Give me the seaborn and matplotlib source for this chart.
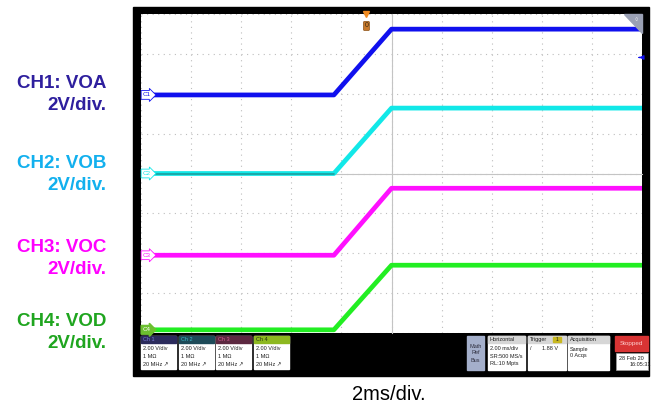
import numpy as np
import pandas as pd
import matplotlib
matplotlib.use("Agg")
import matplotlib.pyplot as plt
from matplotlib.patches import Rectangle, Polygon
from matplotlib.ticker import MultipleLocator
import seaborn as sns

# scope trace data: time in ms (2 ms/div), level in divisions (2 V/div)
channels = ["CH1", "CH2", "CH3", "CH4"]
trace_colors = ["#1010EE", "#12E8E8", "#FF10FF", "#22EE22"]
low_levels = [1.97, 0.0, -2.05, -3.92]
high_levels = [3.62, 1.64, -0.37, -2.30]
ramp_start = -2.3
ramp_end = 0.0
t_left, t_right = -10.0, 10.0
trigger_time = -1.0
trigger_volts = 1.88

label_names = ["CH1: VOA", "CH2: VOB", "CH3: VOC", "CH4: VOD"]
label_colors = ["#2E1F9E", "#12B0EE", "#FF00FF", "#1FA51F"]
label_y = [83, 164, 247, 321]

rows = []
for ch, lo, hi in zip(channels, low_levels, high_levels):
    for t, v in zip([t_left, ramp_start, ramp_end, t_right], [lo, lo, hi, hi]):
        rows.append({"channel": ch, "time": t, "level": v})
df = pd.DataFrame(rows)

sns.set_style("white")
plt.rcParams["font.family"] = ["Liberation Sans", "DejaVu Sans"]

fig = plt.figure(figsize=(6.52, 4.07), dpi=100)

# background layer in pixel coords
bg = fig.add_axes([0, 0, 1, 1], zorder=0)
bg.set_xlim(0, 652)
bg.set_ylim(407, 0)
bg.axis("off")
bg.add_patch(Rectangle((133, 7), 516, 369, color="black"))

# left channel labels
for name, col, y in zip(label_names, label_colors, label_y):
    bg.text(106, y, name, color=col, fontsize=13.5, fontweight="bold", ha="right", va="center")
    bg.text(106, y + 22, "2V/div.", color=col, fontsize=13.5, fontweight="bold", ha="right", va="center")

bg.text(389, 395, "2ms/div.", fontsize=14.5, ha="center", va="center", color="black")

# status bar
ch_heads = ["#2B2B5C", "#1D4A58", "#5C2840", "#8DB820"]
ch_head_txt = ["#7C7CD8", "#3CB8C8", "#D06090", "#203010"]
ch_x = [141, 179, 216, 254]
for i, (x0, hc, tc) in enumerate(zip(ch_x, ch_heads, ch_head_txt)):
    bg.add_patch(Rectangle((x0, 336), 35, 33, color="white"))
    bg.add_patch(Rectangle((x0, 336), 35, 7, color=hc))
    bg.text(x0 + 2, 339.5, f"Ch {i + 1}", color=tc, fontsize=4, va="center")
    for j, s in enumerate(["2.00 V/div", "1 M\u03a9", "20 MHz \u2197"]):
        bg.text(x0 + 2, 349 + 8 * j, s, fontsize=4, va="center", color="#202020")

bg.add_patch(Rectangle((467, 336), 17, 34, color="#A4AFCB"))
bg.text(475.5, 353, "Math\nRef\nBus", fontsize=4, ha="center", va="center", color="#303040", linespacing=1.5)

boxes = [(488, 37, "Horizontal", ["2.00 ms/div", "SR:500 MS/s", "RL:10 Mpts"]),
         (528, 38, "Trigger", ["/       1.88 V"]),
         (568, 41, "Acquisition", ["Sample", "0 Acqs"])]
for x0, w, head, lines in boxes:
    bg.add_patch(Rectangle((x0, 336), w, 34, color="white"))
    bg.add_patch(Rectangle((x0, 336), w, 7, color="#D6D6D6"))
    bg.text(x0 + 2, 339.5, head, fontsize=4, va="center", color="#202020")
    for j, s in enumerate(lines):
        bg.text(x0 + 2, 349 + 7 * j, s, fontsize=4, va="center", color="#202020")
bg.add_patch(Rectangle((553, 337), 8, 5, color="#C8B820"))
bg.text(557, 339.5, "1", fontsize=3.5, ha="center", va="center", color="#202020")

bg.add_patch(Rectangle((615, 336), 33, 15, color="#D83434"))
bg.text(620, 343.5, "Stopped", fontsize=4.5, va="center", color="#FFD0D0")
bg.add_patch(Rectangle((616, 353), 32, 17, facecolor="white", edgecolor="#A0A0A0", lw=0.5))
bg.text(619, 358, "28 Feb 20", fontsize=4, va="center", color="#202020")
bg.text(630, 365, "16:05:31", fontsize=4, va="center", color="#202020")

# scope screen
ax = fig.add_axes([141 / 652, 1 - 333 / 407, 501 / 652, 319 / 407], zorder=1)
ax.set_facecolor("white")
ax.set_xlim(t_left, t_right)
ax.set_ylim(-4, 4)
ax.xaxis.set_major_locator(MultipleLocator(2))
ax.xaxis.set_minor_locator(MultipleLocator(0.4))
ax.yaxis.set_major_locator(MultipleLocator(1))
ax.yaxis.set_minor_locator(MultipleLocator(0.2))
ax.grid(True, which="major", color="#BDBDBD", linestyle=(0, (1, 4)), linewidth=0.8)
# center cross lines with graticule ticks
for side in ["top", "right"]:
    ax.spines[side].set_visible(False)
ax.spines["left"].set_position(("data", 0))
ax.spines["bottom"].set_position(("data", 0))
for side in ["left", "bottom"]:
    ax.spines[side].set_color("#C4C4C4")
    ax.spines[side].set_linewidth(0.8)
ax.tick_params(which="both", direction="inout", color="#C4C4C4", width=0.6,
               labelbottom=False, labelleft=False)
ax.tick_params(which="major", length=4)
ax.tick_params(which="minor", length=2.5)

sns.lineplot(data=df, x="time", y="level", hue="channel", palette=trace_colors,
             linewidth=3.4, estimator=None, legend=False, ax=ax, zorder=3)
# CH2 low segment looks darker teal on the scope
ch2 = df[(df.channel == "CH2") & (df.level == low_levels[1])]
sns.lineplot(data=ch2, x="time", y="level", color="#1C9E9E", linewidth=1.2,
             estimator=None, legend=False, ax=ax, zorder=4)
ax.set_xlabel("")
ax.set_ylabel("")

# channel offset markers
for i, (lo, col) in enumerate(zip(low_levels, trace_colors)):
    if i == 3:
        bb = dict(boxstyle="rarrow,pad=0.3", fc="#6CC030", ec="#6CC030")
        tc = "white"
    else:
        bb = dict(boxstyle="rarrow,pad=0.3", fc="white", ec=col, lw=0.6)
        tc = col
    ax.text(t_left + 0.08, lo, f"C{i + 1}", fontsize=4.5, color=tc, ha="left",
            va="center", bbox=bb, zorder=6)

# trigger level arrow (CH1)
trig_level = low_levels[0] + trigger_volts / 2
ax.annotate("", xy=(t_right - 0.12, trig_level), xytext=(t_right, trig_level),
            arrowprops=dict(arrowstyle="-|>", color="#1010EE", lw=1, mutation_scale=6),
            annotation_clip=False, zorder=6)

# trigger position marker
ax.plot([trigger_time], [4.0], marker="v", color="#F08A20", markersize=4, clip_on=False, zorder=6)
ax.text(trigger_time, 3.7, "0", fontsize=5, color="#3A2A10", ha="center", va="center",
        bbox=dict(boxstyle="round,pad=0.15", fc="#C8782A", ec="#8A5015", lw=0.5), zorder=6)

# top right corner indicator
fg = fig.add_axes([0, 0, 1, 1], zorder=5)
fg.set_xlim(0, 652)
fg.set_ylim(407, 0)
fg.axis("off")
fg.patch.set_alpha(0)
fg.add_patch(Polygon([[624, 14], [642, 14], [642, 33]], closed=True, color="#9AA0B4"))
fg.text(636, 20, "\u25cb", fontsize=4, color="white", ha="center", va="center")

fig.savefig("out.png", dpi=100)
